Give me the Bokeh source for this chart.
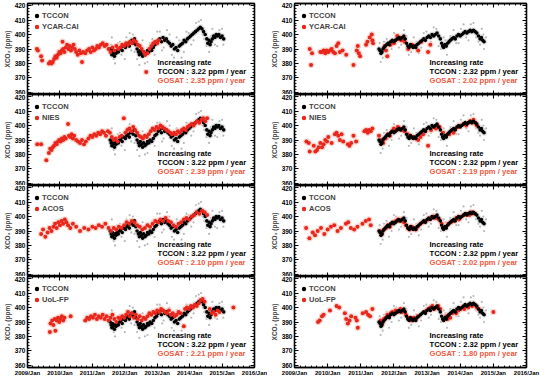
from bokeh.plotting import figure
from bokeh.layouts import column, row
from bokeh.models import (Range1d, LinearAxis, FixedTicker, Legend, LegendItem,
                          Label, ColumnDataSource, CustomLabelingPolicy)
from bokeh.embed import file_html
from bokeh.resources import INLINE

# ---------------- data ----------------
years = [2009, 2010, 2011, 2012, 2013, 2014, 2015, 2016]
year_labels = ["2009/Jan", "2010/Jan", "2011/Jan", "2012/Jan", "2013/Jan",
               "2014/Jan", "2015/Jan", "2016/Jan"]
y_ticks = [360, 370, 380, 390, 400, 410, 420]

gosat_names = ["YCAR-CAI", "NIES", "ACOS", "UoL-FP"]
tccon_rate = ["3.22", "2.32"]
gosat_rate_left = ["2.35", "2.39", "2.10", "2.21"]
gosat_rate_right = ["2.02", "2.19", "2.02", "1.80"]

# TCCON daily means (left column site)
tccon_left = [
    (2011.55, 390), (2011.58, 388), (2011.60, 386), (2011.62, 389), (2011.65, 387),
    (2011.68, 385), (2011.70, 388), (2011.73, 387), (2011.76, 389), (2011.80, 388),
    (2011.84, 390), (2011.88, 391), (2011.92, 389), (2011.96, 392), (2012.02, 391),
    (2012.06, 393), (2012.10, 394), (2012.14, 392), (2012.18, 395), (2012.22, 396),
    (2012.26, 394), (2012.30, 397), (2012.34, 393), (2012.38, 390), (2012.42, 388),
    (2012.45, 386), (2012.48, 389), (2012.52, 387), (2012.55, 385), (2012.58, 388),
    (2012.62, 386), (2012.66, 387), (2012.70, 389), (2012.74, 388), (2012.78, 390),
    (2012.83, 389), (2012.88, 391), (2012.93, 393), (2012.98, 394), (2013.03, 396),
    (2013.08, 397), (2013.13, 395), (2013.18, 398), (2013.23, 396), (2013.28, 397),
    (2013.33, 395), (2013.38, 394), (2013.43, 392), (2013.48, 393), (2013.53, 390),
    (2013.58, 391), (2013.63, 389), (2013.68, 392), (2013.73, 393), (2013.78, 394),
    (2013.83, 396), (2013.88, 395), (2013.93, 397), (2013.98, 398), (2014.03, 399),
    (2014.08, 400), (2014.13, 401), (2014.18, 402), (2014.23, 403), (2014.28, 404),
    (2014.33, 405), (2014.38, 404), (2014.43, 402), (2014.48, 400), (2014.53, 397),
    (2014.56, 394), (2014.60, 396), (2014.63, 393), (2014.66, 395), (2014.70, 397),
    (2014.74, 399), (2014.78, 398), (2014.82, 400), (2014.86, 399), (2014.90, 400),
    (2014.95, 398), (2015.00, 399), (2015.05, 397),
]

# TCCON daily means (right column site)
tccon_right = [
    (2011.55, 390), (2011.58, 389), (2011.61, 387), (2011.64, 388), (2011.67, 390),
    (2011.70, 391), (2011.74, 392), (2011.78, 393), (2011.82, 394), (2011.86, 393),
    (2011.90, 395), (2011.95, 396), (2012.00, 395), (2012.05, 396), (2012.10, 397),
    (2012.15, 398), (2012.20, 397), (2012.25, 398), (2012.30, 399), (2012.34, 397),
    (2012.38, 394), (2012.42, 392), (2012.46, 391), (2012.50, 393), (2012.54, 392),
    (2012.58, 391), (2012.62, 392), (2012.66, 391), (2012.70, 393), (2012.75, 394),
    (2012.80, 395), (2012.85, 396), (2012.90, 397), (2012.95, 396), (2013.00, 398),
    (2013.05, 399), (2013.10, 398), (2013.15, 400), (2013.20, 399), (2013.25, 400),
    (2013.30, 401), (2013.35, 399), (2013.40, 397), (2013.44, 394), (2013.47, 392),
    (2013.50, 391), (2013.54, 393), (2013.58, 392), (2013.62, 394), (2013.66, 395),
    (2013.70, 396), (2013.75, 397), (2013.80, 398), (2013.85, 397), (2013.90, 399),
    (2013.95, 400), (2014.00, 399), (2014.05, 400), (2014.10, 401), (2014.15, 402),
    (2014.20, 401), (2014.25, 402), (2014.30, 403), (2014.35, 402), (2014.40, 403),
    (2014.45, 402), (2014.50, 401), (2014.55, 399), (2014.60, 397), (2014.64, 398),
    (2014.68, 396), (2014.72, 395),
]

# individual TCCON soundings (scattered, grey)
tccon_indiv_left = [
    (2011.60, 398), (2011.70, 380), (2011.85, 395), (2012.00, 383), (2012.15, 401),
    (2012.30, 388), (2012.45, 379), (2012.55, 396), (2012.70, 381), (2012.85, 397),
    (2013.00, 402), (2013.15, 389), (2013.30, 403), (2013.45, 386), (2013.60, 398),
    (2013.75, 384), (2013.90, 402), (2014.05, 393), (2014.20, 408), (2014.35, 410),
    (2014.45, 397), (2014.60, 388), (2014.70, 404), (2014.85, 392), (2015.00, 404),
    (2011.58, 393), (2011.66, 383), (2011.78, 394), (2011.90, 386), (2012.05, 398),
    (2012.20, 389), (2012.25, 400), (2012.38, 383), (2012.50, 392), (2012.62, 380),
    (2012.78, 394), (2012.92, 386), (2013.08, 402), (2013.20, 391), (2013.38, 400),
    (2013.52, 384), (2013.68, 396), (2013.82, 388), (2013.97, 401), (2014.12, 396),
    (2014.28, 409), (2014.40, 400), (2014.52, 392), (2014.65, 399), (2014.78, 393),
    (2014.92, 403), (2015.04, 393),
]
tccon_indiv_right = [
    (2011.60, 381), (2011.70, 395), (2011.85, 386), (2012.00, 401), (2012.15, 391),
    (2012.30, 403), (2012.45, 386), (2012.60, 398), (2012.75, 387), (2012.90, 401),
    (2013.05, 393), (2013.20, 405), (2013.35, 392), (2013.50, 398), (2013.60, 386),
    (2013.80, 403), (2013.95, 394), (2014.10, 407), (2014.25, 396), (2014.40, 408),
    (2014.55, 395), (2014.65, 404), (2014.72, 390), (2014.78, 398),
    (2011.57, 394), (2011.66, 384), (2011.78, 397), (2011.93, 390), (2012.07, 400),
    (2012.22, 393), (2012.38, 399), (2012.52, 388), (2012.68, 395), (2012.82, 391),
    (2012.98, 402), (2013.12, 395), (2013.28, 404), (2013.42, 390), (2013.55, 396),
    (2013.70, 399), (2013.88, 394), (2014.02, 404), (2014.18, 398), (2014.32, 407),
    (2014.48, 398), (2014.60, 393), (2014.70, 400),
]

ycar_left = [
    (2009.29, 390), (2009.32, 389), (2009.42, 385), (2009.45, 382), (2009.66, 380),
    (2009.70, 381), (2009.74, 380), (2009.78, 381), (2009.82, 383), (2009.86, 385),
    (2009.90, 384), (2009.94, 386), (2009.98, 388), (2010.02, 387), (2010.06, 389),
    (2010.08, 395), (2010.10, 390), (2010.14, 388), (2010.18, 391), (2010.22, 393),
    (2010.26, 390), (2010.30, 392), (2010.34, 389), (2010.38, 391), (2010.42, 393),
    (2010.46, 390), (2010.50, 388), (2010.55, 386), (2010.60, 389), (2010.65, 387),
    (2010.68, 381), (2010.72, 388), (2010.78, 387), (2010.84, 389), (2010.90, 390),
    (2010.95, 388), (2011.00, 391), (2011.05, 389), (2011.10, 390), (2011.15, 392),
    (2011.20, 391), (2011.26, 393), (2011.32, 394), (2011.38, 392), (2011.44, 393),
    (2011.50, 390), (2011.56, 388), (2011.62, 391), (2011.68, 389), (2011.74, 392),
    (2011.80, 390), (2011.86, 391), (2011.92, 393), (2011.98, 392), (2012.04, 394),
    (2012.10, 393), (2012.16, 395), (2012.22, 394), (2012.28, 396), (2012.34, 395),
    (2012.40, 393), (2012.46, 392), (2012.52, 390), (2012.58, 388), (2012.63, 386),
    (2012.66, 374), (2012.70, 387), (2012.76, 390), (2012.82, 392), (2012.88, 394),
    (2012.94, 395), (2013.00, 394), (2013.05, 396),
]
ycar_right = [
    (2009.46, 390), (2009.50, 379), (2009.53, 387), (2009.78, 388), (2009.83, 388),
    (2009.88, 389), (2009.93, 387), (2009.97, 389), (2010.02, 388), (2010.07, 389),
    (2010.12, 390), (2010.17, 388), (2010.22, 387), (2010.27, 392), (2010.32, 394),
    (2010.37, 388), (2010.45, 389), (2010.56, 386), (2010.78, 379), (2010.88, 389),
    (2010.91, 392), (2010.94, 387), (2010.98, 385), (2011.16, 393), (2011.20, 395),
    (2011.27, 398), (2011.33, 400), (2011.35, 396), (2011.37, 394), (2011.72, 392),
    (2011.76, 389), (2011.80, 385), (2011.85, 394), (2011.90, 393), (2011.95, 395),
    (2012.00, 394), (2012.05, 396), (2012.10, 399), (2012.14, 397), (2012.18, 398),
    (2012.22, 396), (2012.28, 397), (2012.32, 395), (2012.43, 390), (2012.55, 393),
    (2012.65, 392), (2012.73, 389), (2012.83, 395), (2013.03, 388), (2013.10, 393),
]
nies_left = [
    (2009.30, 387), (2009.42, 387), (2009.58, 376), (2009.66, 381), (2009.70, 384),
    (2009.74, 383), (2009.78, 385), (2009.82, 386), (2009.86, 388), (2009.90, 387),
    (2009.94, 389), (2009.98, 390), (2010.02, 389), (2010.06, 391), (2010.10, 390),
    (2010.14, 392), (2010.18, 391), (2010.25, 401), (2010.28, 393), (2010.32, 392),
    (2010.36, 394), (2010.40, 391), (2010.44, 393), (2010.50, 390), (2010.56, 389),
    (2010.62, 388), (2010.68, 390), (2010.74, 387), (2010.80, 389), (2010.88, 391),
    (2010.94, 393), (2011.00, 392), (2011.06, 394), (2011.12, 393), (2011.18, 395),
    (2011.24, 394), (2011.30, 396), (2011.36, 395), (2011.42, 393), (2011.48, 396),
    (2011.54, 395), (2011.60, 392), (2011.66, 390), (2011.72, 391), (2011.78, 389),
    (2011.84, 392), (2011.90, 393), (2011.97, 405), (2012.02, 395), (2012.08, 397),
    (2012.14, 398), (2012.20, 396), (2012.26, 399), (2012.32, 397), (2012.38, 395),
    (2012.44, 393), (2012.50, 392), (2012.56, 391), (2012.62, 393), (2012.68, 392),
    (2012.74, 394), (2012.80, 396), (2012.86, 398), (2012.92, 397), (2012.98, 399),
    (2013.04, 398), (2013.10, 400), (2013.16, 399), (2013.22, 398), (2013.28, 397),
    (2013.34, 396), (2013.40, 395), (2013.46, 394), (2013.52, 395), (2013.58, 394),
    (2013.64, 396), (2013.70, 395), (2013.76, 397), (2013.82, 398), (2013.88, 397),
    (2013.94, 399), (2014.00, 400), (2014.06, 401), (2014.12, 400), (2014.18, 402),
    (2014.24, 403), (2014.30, 402), (2014.36, 404), (2014.42, 405), (2014.48, 403),
    (2014.54, 405),
]
nies_right = [
    (2009.36, 389), (2009.43, 388), (2009.46, 382), (2009.58, 386), (2009.63, 382),
    (2009.68, 383), (2009.73, 385), (2009.78, 388), (2009.83, 385), (2009.88, 387),
    (2009.93, 390), (2009.98, 389), (2010.02, 392), (2010.12, 388), (2010.22, 394),
    (2010.27, 395), (2010.32, 393), (2010.37, 390), (2010.42, 394), (2010.47, 389),
    (2010.61, 387), (2010.66, 386), (2010.71, 388), (2010.78, 393), (2010.86, 389),
    (2011.11, 396), (2011.16, 397), (2011.21, 395), (2011.25, 397), (2011.30, 396),
    (2011.35, 398), (2011.55, 393), (2011.62, 390), (2011.68, 388), (2011.75, 391),
    (2011.82, 394), (2011.88, 393), (2011.94, 396), (2012.00, 398), (2012.06, 397),
    (2012.12, 399), (2012.18, 398), (2012.24, 397), (2012.32, 396), (2012.42, 394),
    (2012.50, 393), (2012.58, 392), (2012.66, 391), (2012.73, 390), (2012.80, 392),
    (2012.88, 394), (2012.95, 396), (2013.03, 386), (2013.12, 397), (2013.20, 399),
    (2013.27, 398), (2013.32, 400), (2013.38, 399), (2013.48, 395), (2013.56, 393),
    (2013.62, 394), (2013.67, 394), (2013.74, 396), (2013.80, 395), (2013.86, 398),
    (2013.94, 399), (2014.02, 400), (2014.10, 401), (2014.18, 400), (2014.24, 402),
    (2014.30, 403), (2014.36, 402), (2014.40, 404), (2014.46, 402), (2014.50, 400),
]
acos_left = [
    (2009.42, 388), (2009.48, 391), (2009.55, 386), (2009.62, 389), (2009.68, 392),
    (2009.74, 390), (2009.80, 393), (2009.85, 395), (2009.90, 392), (2009.95, 396),
    (2010.00, 394), (2010.05, 397), (2010.10, 395), (2010.15, 398), (2010.20, 396),
    (2010.25, 394), (2010.32, 392), (2010.40, 395), (2010.50, 393), (2010.62, 390),
    (2010.75, 392), (2010.88, 391), (2011.00, 393), (2011.10, 392), (2011.20, 394),
    (2011.30, 393), (2011.40, 395), (2011.50, 392), (2011.58, 390), (2011.66, 392),
    (2011.74, 391), (2011.82, 393), (2011.90, 392), (2011.98, 394), (2012.06, 396),
    (2012.14, 395), (2012.22, 397), (2012.30, 396), (2012.38, 394), (2012.46, 393),
    (2012.54, 391), (2012.62, 392), (2012.70, 394), (2012.78, 393), (2012.86, 395),
    (2012.94, 397), (2013.02, 396), (2013.10, 398), (2013.18, 397), (2013.26, 399),
    (2013.34, 397), (2013.42, 396), (2013.50, 394), (2013.58, 393), (2013.66, 395),
    (2013.74, 396), (2013.82, 398), (2013.90, 399), (2013.98, 398), (2014.06, 400),
    (2014.14, 401), (2014.22, 403), (2014.30, 402), (2014.38, 404), (2014.46, 403),
    (2014.54, 401),
]
acos_right = [
    (2009.35, 392), (2009.45, 385), (2009.55, 389), (2009.62, 387), (2009.70, 390),
    (2009.80, 392), (2009.90, 388), (2010.00, 391), (2010.10, 393), (2010.20, 394),
    (2010.30, 390), (2010.40, 392), (2010.55, 395), (2010.62, 396), (2010.70, 392),
    (2010.80, 391), (2010.90, 393), (2011.05, 395), (2011.15, 397), (2011.25, 398),
    (2011.30, 394), (2011.58, 390), (2011.64, 388), (2011.70, 391), (2011.76, 392),
    (2011.82, 394), (2011.88, 393), (2011.94, 395), (2012.00, 396), (2012.06, 397),
    (2012.12, 398), (2012.18, 397), (2012.24, 398), (2012.30, 396), (2012.36, 394),
    (2012.42, 392), (2012.48, 391), (2012.54, 393), (2012.60, 392), (2012.66, 391),
    (2012.72, 393), (2012.80, 395), (2012.88, 396), (2012.96, 397), (2013.04, 398),
    (2013.12, 399), (2013.20, 400), (2013.28, 399), (2013.36, 398), (2013.44, 395),
    (2013.50, 392), (2013.56, 393), (2013.64, 395), (2013.72, 396), (2013.80, 397),
    (2013.88, 399), (2013.96, 398), (2014.04, 400), (2014.12, 401), (2014.20, 402),
    (2014.28, 401), (2014.36, 403), (2014.44, 402),
]
uol_left = [
    (2009.69, 383), (2009.71, 389), (2009.76, 391), (2009.80, 388), (2009.84, 392),
    (2009.86, 384), (2009.90, 391), (2009.94, 393), (2009.98, 390), (2010.02, 392),
    (2010.06, 394), (2010.10, 391), (2010.14, 393), (2010.33, 394), (2010.78, 391),
    (2010.84, 393), (2010.90, 392), (2010.96, 394), (2011.02, 393), (2011.08, 395),
    (2011.14, 392), (2011.20, 394), (2011.26, 393), (2011.32, 395), (2011.38, 392),
    (2011.44, 394), (2011.50, 391), (2011.56, 393), (2011.62, 395), (2011.68, 392),
    (2011.74, 390), (2011.80, 393), (2011.86, 392), (2011.92, 394), (2011.98, 393),
    (2012.04, 395), (2012.10, 397), (2012.16, 394), (2012.22, 396), (2012.28, 393),
    (2012.34, 395), (2012.40, 392), (2012.46, 394), (2012.52, 391), (2012.58, 393),
    (2012.64, 392), (2012.70, 394), (2012.76, 396), (2012.82, 395), (2012.88, 397),
    (2012.94, 396), (2013.00, 398), (2013.06, 397), (2013.12, 399), (2013.18, 398),
    (2013.24, 397), (2013.30, 396), (2013.36, 398), (2013.42, 395), (2013.48, 396),
    (2013.54, 394), (2013.60, 395), (2013.66, 397), (2013.72, 396), (2013.82, 387),
    (2013.86, 399), (2013.92, 400), (2013.98, 399), (2014.04, 401), (2014.10, 400),
    (2014.16, 402), (2014.22, 401), (2014.28, 403), (2014.34, 405), (2014.40, 406),
    (2014.46, 404), (2014.62, 399), (2014.68, 396), (2014.74, 397), (2014.80, 395),
    (2014.86, 398), (2014.92, 397), (2015.35, 400),
]
uol_right = [
    (2009.71, 390), (2009.76, 391), (2009.83, 394), (2009.88, 395), (2010.07, 398),
    (2010.27, 401), (2010.35, 400), (2010.52, 396), (2010.56, 392), (2010.61, 389),
    (2010.66, 391), (2010.71, 394), (2010.84, 393), (2010.88, 391), (2010.91, 386),
    (2011.06, 396), (2011.16, 397), (2011.22, 395), (2011.28, 394), (2011.35, 399),
    (2011.60, 391), (2011.65, 389), (2011.70, 392), (2011.75, 393), (2011.80, 395),
    (2011.85, 394), (2011.90, 396), (2011.95, 397), (2012.00, 396), (2012.05, 398),
    (2012.10, 397), (2012.15, 398), (2012.20, 399), (2012.25, 397), (2012.30, 398),
    (2012.36, 395), (2012.42, 393), (2012.48, 392), (2012.54, 391), (2012.60, 393),
    (2012.66, 392), (2012.72, 394), (2012.98, 398), (2013.04, 399), (2013.10, 400),
    (2013.16, 401), (2013.22, 399), (2013.28, 400), (2013.34, 401), (2013.40, 399),
    (2013.58, 394), (2013.62, 392), (2013.66, 395), (2013.70, 393), (2013.76, 396),
    (2013.82, 397), (2013.88, 396), (2013.94, 398), (2014.00, 399), (2014.06, 400),
    (2014.12, 399), (2014.18, 401), (2014.24, 400), (2014.30, 402), (2014.36, 401),
    (2014.42, 402), (2014.50, 400), (2014.56, 399), (2015.00, 397),
]

gosat_left = [ycar_left, nies_left, acos_left, uol_left]
gosat_right = [ycar_right, nies_right, acos_right, uol_right]

# ---------------- style ----------------
FONT = "Liberation Sans"
RED = "#e8261c"
PINK = "#f9cfc7"
GREY = "#d2d2d2"
GOSAT_TXT = "#f0583f"
FRAME_H = 91


def src(pairs):
    return ColumnDataSource(dict(t=[a for a, b in pairs], v=[b for a, b in pairs]))


def style_axis(ax, ticker, labels_on, label_size):
    ax.ticker = ticker
    ax.major_tick_in = 4
    ax.major_tick_out = 0
    ax.minor_tick_in = 2
    ax.minor_tick_out = 0
    ax.axis_line_width = 1.3
    ax.major_tick_line_width = 1.1
    ax.minor_tick_line_width = 0.9
    ax.major_label_text_font = FONT
    ax.major_label_text_font_style = "bold"
    ax.major_label_text_font_size = label_size
    if labels_on:
        ax.major_label_text_color = "black"
        ax.major_label_standoff = 2
    else:
        ax.major_label_text_color = None
        ax.major_label_standoff = 0
        ax.major_label_policy = CustomLabelingPolicy(code="return []")


def x_ticker():
    return FixedTicker(ticks=years, minor_ticks=[2009 + i / 6 for i in range(43)])


def y_ticker():
    return FixedTicker(ticks=y_ticks, minor_ticks=list(range(358, 423, 2)))


def make_panel(col, r):
    left = col == 0
    fw = 232 if left else 237
    mbl = 22
    mbr = 13 if left else 16
    mbt = 3 if r == 0 else 0
    mbb = 12 if r == 3 else 0
    p = figure(width=mbl + fw + mbr, height=mbt + FRAME_H + mbb,
               x_range=Range1d(2009, 2016), y_range=Range1d(358.5, 421.5),
               output_backend="svg", toolbar_location=None,
               min_border_left=mbl, min_border_right=mbr,
               min_border_top=mbt, min_border_bottom=mbb,
               background_fill_color="white", border_fill_color=None,
               outline_line_color="black", outline_line_width=1.3)
    p.grid.visible = False

    xa = p.xaxis[0]
    style_axis(xa, x_ticker(), r == 3, "6px")
    if r == 3:
        xa.major_label_overrides = {y: l for y, l in zip(years, year_labels)}
    ya = p.yaxis[0]
    style_axis(ya, y_ticker(), True, "6.5px")
    ya.axis_label = "XCO\u2082 (ppm)"
    ya.axis_label_text_font = FONT
    ya.axis_label_text_font_style = "bold"
    ya.axis_label_text_font_size = "6.5px"
    ya.axis_label_standoff = 1

    top = LinearAxis()
    style_axis(top, x_ticker(), False, "6px")
    p.add_layout(top, "above")
    rgt = LinearAxis()
    style_axis(rgt, y_ticker(), False, "6px")
    p.add_layout(rgt, "right")

    tccon = tccon_left if left else tccon_right
    indiv = tccon_indiv_left if left else tccon_indiv_right
    gosat = (gosat_left if left else gosat_right)[r]
    s_t = src(tccon)
    s_g = src(gosat)

    p.scatter("t", "v", source=src(indiv), size=2.2, color="#b8b8b8", line_color=None)
    p.scatter("t", "v", source=s_t, size=6, color=GREY, alpha=0.6, line_color=None)
    p.scatter("t", "v", source=s_g, size=6.5, color=PINK, alpha=0.8, line_color=None)
    if left:
        rb = p.scatter("t", "v", source=s_t, size=3.6, color="black", line_color=None)
        rr = p.scatter("t", "v", source=s_g, size=4, color=RED, line_color=None)
    else:
        rr = p.scatter("t", "v", source=s_g, size=4, color=RED, line_color=None)
        rb = p.scatter("t", "v", source=s_t, size=3.6, color="black", line_color=None)

    leg = Legend(items=[LegendItem(label="TCCON", renderers=[rb]),
                        LegendItem(label=gosat_names[r], renderers=[rr])],
                 location=(4, FRAME_H - 29), margin=0, padding=0, spacing=0,
                 glyph_width=11, glyph_height=11, label_height=8,
                 label_standoff=0, border_line_color=None,
                 background_fill_alpha=0, label_text_font=FONT,
                 label_text_font_style="bold", label_text_font_size="7.5px")
    p.add_layout(leg)

    lx = fw - 102
    rate_g = (gosat_rate_left if left else gosat_rate_right)[r]
    lines = [("Increasing rate", 32, "black"),
             ("TCCON : %s ppm / year" % tccon_rate[col], 23, "black"),
             ("GOSAT : %s ppm / year" % rate_g, 14, GOSAT_TXT)]
    for txt, yy, c in lines:
        p.add_layout(Label(x=lx, y=yy, x_units="screen", y_units="screen", text=txt,
                           text_font=FONT, text_font_style="bold",
                           text_font_size="7.6px", text_color=c,
                           text_baseline="middle", text_align="left"))
    return p


rows = [row(make_panel(0, r), make_panel(1, r)) for r in range(4)]
layout = column(*rows)

open("out.html", "w").write(file_html(layout, INLINE))
